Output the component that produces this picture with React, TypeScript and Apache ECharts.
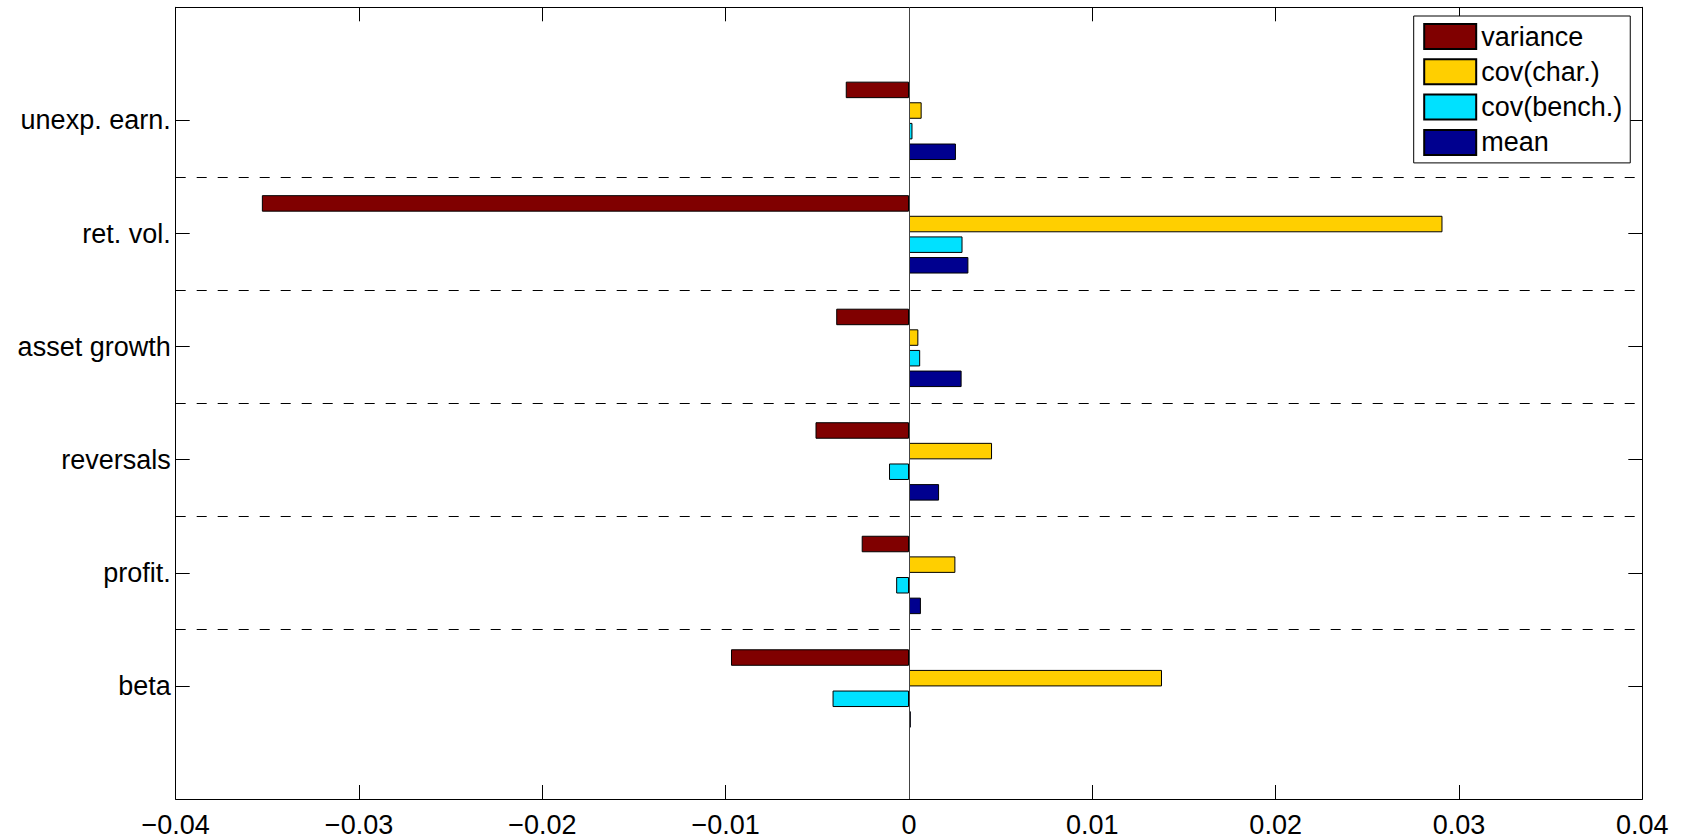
import React, { useEffect, useRef } from "react";
import * as echarts from "echarts";

const categories = ["unexp. earn.", "ret. vol.", "asset growth", "reversals", "profit.", "beta"];
const seriesNames = ["variance", "cov(char.)", "cov(bench.)", "mean"];
const variance = [-0.00345, -0.0353, -0.00397, -0.0051, -0.00258, -0.00971];
const covChar = [0.00069, 0.0291, 0.00051, 0.00453, 0.00253, 0.0138];
const covBench = [0.00019, 0.00292, 0.00061, -0.00109, -0.0007, -0.00417];
const meanVals = [0.00256, 0.00324, 0.00287, 0.00164, 0.00065, 0.0001];
const xTicks = [-0.04, -0.03, -0.02, -0.01, 0, 0.01, 0.02, 0.03, 0.04];
const colors = ["#800000", "#FFCF00", "#00E1FF", "#00008F"];

const FONT = "'Liberation Sans', Arial, Helvetica, sans-serif";

export default function App() {
  const ref = useRef<HTMLDivElement>(null);
  useEffect(() => {
    if (!ref.current) return;
    const chart = echarts.init(ref.current, undefined, { renderer: "svg" });
    const n = categories.length;
    const left = 175.7;
    const right = 1642.3;
    const top = 7.3;
    const bottom = 802;
    const H = bottom - top;
    const unit = H / (n + 1);
    const W = right - left;
    const allSeries = [variance, covChar, covBench, meanVals];
    const xMin = xTicks[0];
    const xMax = xTicks[xTicks.length - 1];
    const fmtX = (v: number) => {
      const r = Math.round(v * 100) / 100;
      if (r === 0) return "0";
      const s = Math.abs(r).toFixed(2);
      return r < 0 ? "\u2212" + s : s;
    };
    const seps: number[] = [];
    for (let i = 1; i < n; i++) seps.push(i + 0.5);

    const axisLine = { show: true, onZero: false, lineStyle: { color: "#000", width: 1 } };
    const tick = { show: true, inside: true, length: 14, lineStyle: { color: "#000", width: 1 } };

    const option: any = {
      animation: false,
      backgroundColor: "#fff",
      textStyle: { fontFamily: FONT },
      grid: [
        { left, top, width: W, height: H, containLabel: false },
        { left, top: top + unit / 2, width: W, height: unit * n, containLabel: false },
      ],
      xAxis: [
        {
          type: "value", gridIndex: 0, position: "bottom", min: xMin, max: xMax, interval: 0.01,
          axisLine, axisTick: tick, splitLine: { show: false },
          axisLabel: { show: true, color: "#000", fontSize: 27, fontFamily: FONT, margin: 12, formatter: fmtX },
        },
        {
          type: "value", gridIndex: 0, position: "top", min: xMin, max: xMax, interval: 0.01,
          axisLine, axisTick: tick, splitLine: { show: false }, axisLabel: { show: false },
        },
        {
          type: "value", gridIndex: 1, min: xMin, max: xMax, show: false,
        },
      ],
      yAxis: [
        {
          type: "value", gridIndex: 0, position: "left", min: 0, max: n + 1, interval: 1,
          axisLine, axisTick: tick, splitLine: { show: false },
          axisLabel: {
            show: true, color: "#000", fontSize: 27, fontFamily: FONT, margin: 5,
            formatter: (v: number) => (v >= 1 && v <= n ? categories[n - v] : ""),
          },
        },
        {
          type: "value", gridIndex: 0, position: "right", min: 0, max: n + 1, interval: 1,
          axisLine, axisTick: tick, splitLine: { show: false }, axisLabel: { show: false },
        },
        {
          type: "category", gridIndex: 1, data: categories, inverse: true, show: false,
        },
      ],
      legend: {
        show: true,
        data: seriesNames,
        orient: "vertical",
        left: 1413.7,
        top: 16,
        padding: [7, 8, 7, 9.5],
        itemWidth: 52,
        itemHeight: 25,
        itemGap: 8.3,
        backgroundColor: "#fff",
        borderColor: "#000",
        borderWidth: 1,
        borderRadius: 0,
        icon: "rect",
        textStyle: { color: "#000", fontSize: 27, lineHeight: 25, fontFamily: FONT, padding: [0, 0, 0, 0] },
      },
      series: [
        ...allSeries.map((vals, i) => ({
          name: seriesNames[i],
          type: "bar",
          xAxisIndex: 2,
          yAxisIndex: 2,
          data: vals,
          barWidth: 16.5,
          barGap: "25%",
          itemStyle: { color: colors[i], borderColor: "#000", borderWidth: 1 },
          z: 3,
        })),
        {
          name: "_sep",
          type: "line",
          xAxisIndex: 0,
          yAxisIndex: 0,
          data: [],
          silent: true,
          markLine: {
            silent: true,
            symbol: "none",
            animation: false,
            label: { show: false },
            lineStyle: { type: [10, 11], color: "#000", width: 1 },
            data: seps.map((v) => ({ yAxis: v })),
          },
        },
        {
          name: "_zero",
          type: "line",
          xAxisIndex: 0,
          yAxisIndex: 0,
          data: [],
          silent: true,
          z: 1,
          markLine: {
            silent: true,
            symbol: "none",
            animation: false,
            label: { show: false },
            lineStyle: { type: "solid", color: "#444", width: 1 },
            data: [{ xAxis: 0 }],
          },
        },
      ],
    };
    chart.setOption(option);
    return () => chart.dispose();
  }, []);
  return (
    <div
      ref={ref}
      style={{ position: "absolute", left: 0, top: 0, width: 1689, height: 838, background: "#fff" }}
    />
  );
}
